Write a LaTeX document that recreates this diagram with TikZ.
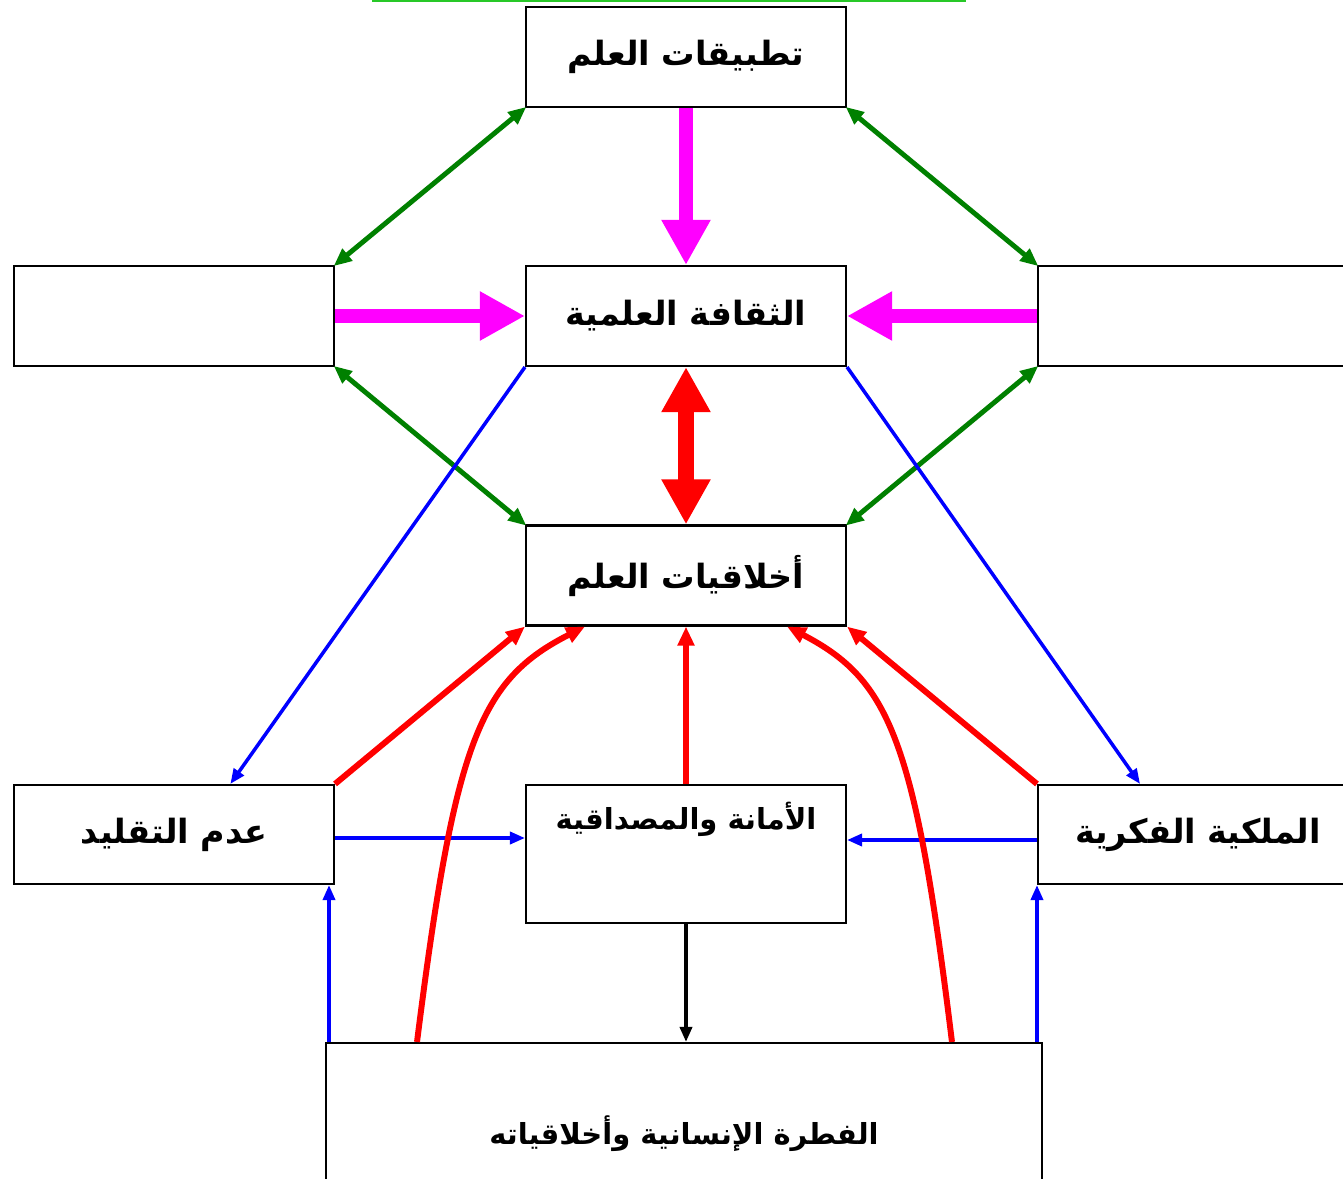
\documentclass[tikz,border=0pt]{standalone}
\usepackage{fontspec}
\newfontfamily\arabicfont[Script=Arabic]{DejaVu Sans}
\TeXXeTstate=1
\usetikzlibrary{arrows.meta,calc}
\definecolor{dgreen}{RGB}{0,128,0}
\definecolor{topgreen}{RGB}{40,200,40}
\definecolor{pmag}{RGB}{255,0,255}
\definecolor{pblue}{RGB}{0,0,255}
\definecolor{pred}{RGB}{255,0,0}
\begin{document}
\begin{tikzpicture}[x=0.02cm,y=-0.02cm,
  box/.style={draw=black,line width=1.2pt,fill=white,minimum width=6.4cm,minimum height=2cm,inner sep=0pt,
    font=\arabicfont\bfseries\fontsize{19}{22}\selectfont},
  gline/.style={draw=dgreen,line width=2.8pt,{Triangle[length=0.36cm,width=0.3cm]}-{Triangle[length=0.36cm,width=0.3cm]},shorten <=-1pt,shorten >=-1pt},
  mline/.style={draw=pmag,line width=8pt,-{Triangle[length=0.9cm,width=0.92cm]}},
  bline/.style={draw=pblue,line width=2pt,-{Triangle[length=0.3cm,width=0.24cm]}},
  rline/.style={draw=pred,line width=3.4pt,-{Triangle[length=0.38cm,width=0.32cm]}},
  kline/.style={draw=black,line width=2pt,-{Triangle[length=0.3cm,width=0.24cm]}}]
\useasboundingbox (0,0) rectangle (1343,1179);
\draw[topgreen,line width=1.2pt] (372,1) -- (966,1);
% boxes
\node[box] (top) at (686,57) {\beginR تطبيقات العلم\endR};
\node[box] (thaq) at (686,316) {\beginR الثقافة العلمية\endR};
\node[box] (left) at (174,316) {};
\node[box] (right) at (1198,316) {};
\node[box] (akh) at (686,575.5) {\beginR أخلاقيات العلم\endR};
\node[box,minimum height=1.98cm] (taqlid) at (174,834.5) {\beginR عدم التقليد\endR};
\node[box,minimum height=2.76cm,
  label={[font=\arabicfont\bfseries\fontsize{16.5}{19}\selectfont,anchor=center,yshift=-0.7cm]north:\beginR الأمانة والمصداقية\endR}] (amana) at (686,854) {};
\node[box,minimum height=1.98cm] (milk) at (1198,834.5) {\beginR الملكية الفكرية\endR};
\node[box,minimum width=14.32cm,minimum height=2.94cm,
  label={[font=\arabicfont\bfseries\fontsize{16.5}{19}\selectfont,yshift=-0.34cm]center:\beginR الفطرة الإنسانية وأخلاقياته\endR}] (fitra) at (684,1116.5) {};
% green double arrows
\draw[gline] (top.south west) -- (left.north east);
\draw[gline] (top.south east) -- (right.north west);
\draw[gline] (left.south east) -- (akh.north west);
\draw[gline] (right.south west) -- (akh.north east);
% magenta arrows
\draw[mline] (top.south) -- (thaq.north);
\draw[mline] (left.east) -- (thaq.west);
\draw[mline] (right.west) -- (thaq.east);
% red thick double arrow
\draw[draw=pred,line width=9pt,{Triangle[length=0.9cm,width=0.92cm]}-{Triangle[length=0.9cm,width=0.92cm]}] (akh.north) -- (thaq.south);
% blue diagonals
\draw[bline] (thaq.south west) -- ($(taqlid.north west)!0.675!(taqlid.north east)$);
\draw[bline] (thaq.south east) -- ($(milk.north west)!0.32!(milk.north east)$);
% blue horizontals
\draw[bline] ($(taqlid.east)+(0,3.5)$) coordinate (h1) -- (h1 -| amana.west);
\draw[bline] ($(milk.west)+(0,5.5)$) coordinate (h2) -- (h2 -| amana.east);
% blue verticals
\draw[bline] ($(fitra.north west)+(4,0)$) coordinate (v1) -- (v1 |- taqlid.south);
\draw[bline] (milk.south west |- fitra.north) -- (milk.south west);
% black
\draw[kline] (amana.south) -- (amana.south |- fitra.north);
% red
\draw[rline] (taqlid.north east) -- (akh.south west);
\draw[rline] (milk.north west) -- (akh.south east);
\draw[rline] (amana.north) -- (akh.south);
\draw[rline] ($(fitra.north west)+(92,0)$) .. controls (455,740) and (480,680) .. ($(akh.south west)+(60,0)$);
\draw[rline] ($(fitra.north east)+(-91,0)$) .. controls (915,740) and (890,680) .. ($(akh.south east)+(-60,0)$);
\end{tikzpicture}
\end{document}
